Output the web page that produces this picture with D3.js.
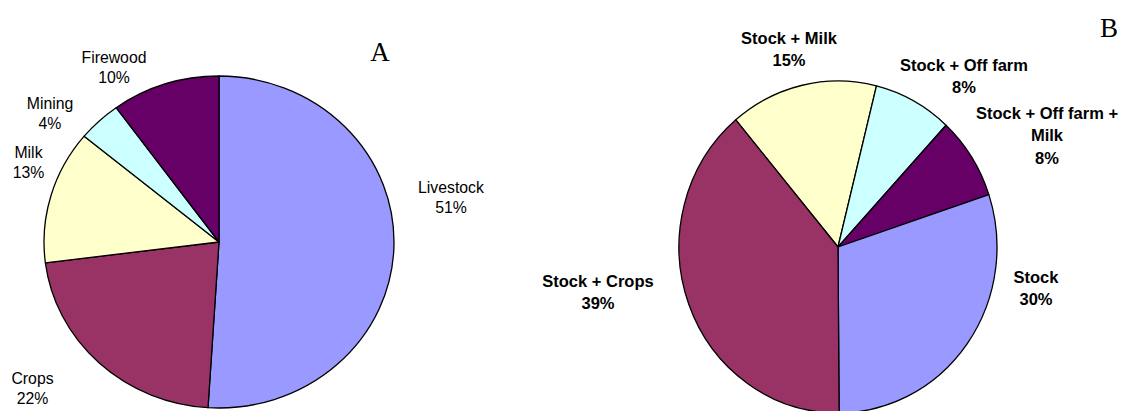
<!DOCTYPE html>
<html>
<head>
<meta charset="utf-8">
<script src="https://cdn.jsdelivr.net/npm/d3@7"></script>
<style>
  body { margin: 0; background: #fff; }
  .lab_a { font-family: "Liberation Sans", Arial, sans-serif; font-size: 15.8px; fill: #000; }
  .lab_b { font-family: "Liberation Sans", Arial, sans-serif; font-size: 16.5px; font-weight: bold; fill: #000; }
  .panel { font-family: "Liberation Serif", "Times New Roman", serif; font-size: 27px; fill: #000; }
</style>
</head>
<body>
<div id="chart"></div>
<script>

// pie A: income sources
var cats_a = ["Livestock", "Crops", "Milk", "Mining", "Firewood"];
var vals_a = [51, 22, 13, 4, 10];

// pie B: combinations of income
var cats_b = ["Stock + Milk", "Stock + Off farm", "Stock + Off farm + Milk", "Stock", "Stock + Crops"];
var vals_b = [15, 8, 8, 30, 39];

// excel palette used by both pies
var colors = {
  "Livestock": "#9999ff", "Stock": "#9999ff",
  "Crops": "#993366", "Stock + Crops": "#993366",
  "Milk": "#ffffcc", "Stock + Milk": "#ffffcc",
  "Mining": "#ccffff", "Stock + Off farm": "#ccffff",
  "Firewood": "#660066", "Stock + Off farm + Milk": "#660066"
};

window.onload = function () {

  var width = 1122;
  var height = 411;

  var svg = d3.select("#chart")
              .append("svg")
                .attr("width", width)
                .attr("height", height);

  // label anchors (baseline of first line), placed by hand like in the original
  var pos_a = {
    "Livestock": [451, 192.5], "Crops": [32.5, 384], "Milk": [28.5, 157.5],
    "Mining": [50, 108.5], "Firewood": [114, 63]
  };
  var pos_b = {
    "Stock + Milk": [789, 44], "Stock + Off farm": [964, 71],
    "Stock + Off farm + Milk": [1047, 119], "Stock": [1036, 282.5],
    "Stock + Crops": [598, 287]
  };

  draw_pie(svg, cats_a, vals_a, {cx: 219, cy: 242, rx: 175, ry: 166, start: 0},
           pos_a, "lab_a", 20);
  draw_pie(svg, cats_b, vals_b, {cx: 838, cy: 247, rx: 159, ry: 166, start: -40},
           pos_b, "lab_b", 22.3);

  // panel letters
  svg.append("text").attr("class", "panel")
     .attr("x", 380).attr("y", 61).attr("text-anchor", "middle").text("A");
  svg.append("text").attr("class", "panel")
     .attr("x", 1109).attr("y", 37).attr("text-anchor", "middle").text("B");
};

function draw_pie(svg, cats, vals, geo, pos, cls, line_h) {

  var total = d3.sum(vals);
  var start = geo.start * Math.PI / 180;

  var pie = d3.pie()
              .sort(null)
              .value(function(d) { return d; })
              .startAngle(start)
              .endAngle(start + 2 * Math.PI);

  var arc = d3.arc()
              .innerRadius(0)
              .outerRadius(geo.ry);

  // stretched circle gives the elliptical look of the original
  var g = svg.append("g")
             .attr("transform", "translate(" + geo.cx + "," + geo.cy + ") scale(" + (geo.rx / geo.ry) + ",1)");

  g.selectAll("path")
    .data(pie(vals))
    .enter()
    .append("path")
      .attr("d", arc)
      .attr("fill", function(d, i) { return colors[cats[i]]; })
      .attr("stroke", "#000")
      .attr("stroke-width", 1.3)
      .attr("vector-effect", "non-scaling-stroke")
      .attr("stroke-linejoin", "round");

  // labels: name (wrapped) and percentage
  cats.forEach(function(c, i) {
    var lines = wrap(c, 18);
    lines.push(Math.round(vals[i] / total * 100) + "%");
    var t = svg.append("text")
               .attr("class", cls)
               .attr("text-anchor", "middle");
    lines.forEach(function(l, j) {
      t.append("tspan")
        .attr("x", pos[c][0])
        .attr("y", pos[c][1] + j * line_h)
        .text(l);
    });
  });
}

function wrap(str, max) {
  var words = str.split(" ");
  var out = [];
  var cur = "";
  words.forEach(function(w) {
    var next = cur ? cur + " " + w : w;
    if (next.length > max) {
      out.push(cur);
      cur = w;
    } else {
      cur = next;
    }
  });
  out.push(cur);
  return out;
}

</script>
</body>
</html>
